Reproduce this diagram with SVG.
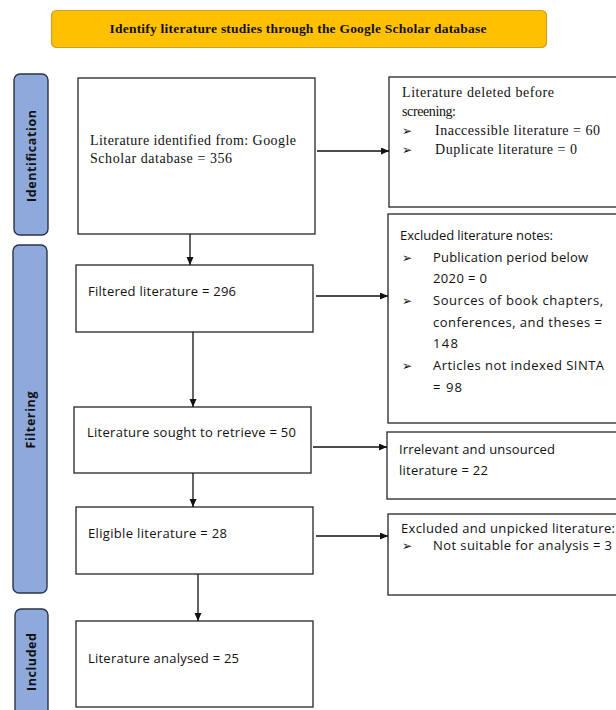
<svg xmlns="http://www.w3.org/2000/svg" width="616" height="710" viewBox="0 0 616 710">
<style>
.box{fill:#fff;stroke:#262626;stroke-width:1.3}
.side{fill:#8EA9DB;stroke:#2B3446;stroke-width:1.4}
.serif{font-family:"Liberation Serif","DejaVu Serif",serif;font-size:14px;fill:#111}
.sans{font-family:"Open Sans","Noto Sans","DejaVu Sans",sans-serif;font-size:13px;fill:#111}
.blt{font-family:"DejaVu Sans",sans-serif;font-size:12px;fill:#111}
.lab{font-family:"Open Sans","Noto Sans","DejaVu Sans",sans-serif;font-size:12.5px;font-weight:bold;fill:#111}
.con{stroke:#111;stroke-width:1.3;fill:none}
</style>
<defs>
<marker id="ah" markerUnits="userSpaceOnUse" markerWidth="9" markerHeight="8" refX="8" refY="3.5" orient="auto">
<path d="M0,0 L8,3.5 L0,7 z" fill="#111"/>
</marker>
</defs>
<rect width="616" height="710" fill="#fff"/>

<g id="header">
<rect x="51.5" y="10.5" width="495" height="37" rx="5" fill="#FFC000" stroke="#C9A227" stroke-width="1.2"/>
<text x="298" y="33" text-anchor="middle" font-family="Liberation Serif, DejaVu Serif, serif" font-weight="bold" font-size="13.5px" fill="#111" textLength="377">Identify literature studies through the Google Scholar database</text>
</g>

<g id="side-identification">
<rect class="side" x="14" y="74" width="34" height="161" rx="6"/>
<text class="lab" transform="translate(36,156) rotate(-90)" text-anchor="middle" textLength="92">Identification</text>
</g>
<g id="side-filtering">
<rect class="side" x="13" y="245" width="34" height="348" rx="6"/>
<text class="lab" transform="translate(35,420) rotate(-90)" text-anchor="middle" textLength="57">Filtering</text>
</g>
<g id="side-included">
<rect class="side" x="15" y="609" width="33" height="120" rx="6"/>
<text class="lab" transform="translate(36,662) rotate(-90)" text-anchor="middle" textLength="58">Included</text>
</g>

<g id="identified">
<rect class="box" x="78" y="78" width="237" height="156"/>
<text class="serif" x="90" y="145" textLength="206">Literature identified from: Google</text>
<text class="serif" x="90" y="163" textLength="142">Scholar database = 356</text>
</g>

<g id="deleted">
<rect class="box" x="389" y="77" width="240" height="130"/>
<text class="serif" x="402" y="97" textLength="152">Literature deleted before</text>
<text class="serif" x="402" y="116" textLength="54">screening:</text>
<text class="blt" x="402" y="135">➢</text>
<text class="serif" x="435" y="135" textLength="165">Inaccessible literature = 60</text>
<text class="blt" x="402" y="154">➢</text>
<text class="serif" x="435" y="154" textLength="142">Duplicate literature = 0</text>
</g>

<g id="filtered">
<rect class="box" x="76" y="265" width="237" height="67"/>
<text class="sans" x="88" y="296" textLength="148">Filtered literature = 296</text>
</g>

<g id="excluded-notes">
<rect class="box" x="388" y="214" width="240" height="209"/>
<text class="sans" x="400" y="240" textLength="153">Excluded literature notes:</text>
<text class="blt" x="402" y="262">➢</text>
<text class="sans" x="433" y="262" textLength="155">Publication period below</text>
<text class="sans" x="433" y="283" textLength="54">2020 = 0</text>
<text class="blt" x="402" y="305">➢</text>
<text class="sans" x="433" y="305" textLength="170">Sources of book chapters,</text>
<text class="sans" x="433" y="327" textLength="169">conferences, and theses =</text>
<text class="sans" x="433" y="348" textLength="25">148</text>
<text class="blt" x="402" y="370">➢</text>
<text class="sans" x="433" y="370" textLength="171">Articles not indexed SINTA</text>
<text class="sans" x="433" y="392" textLength="29">= 98</text>
</g>

<g id="sought">
<rect class="box" x="74" y="407" width="237" height="66"/>
<text class="sans" x="87" y="437" textLength="209">Literature sought to retrieve = 50</text>
</g>

<g id="irrelevant">
<rect class="box" x="387" y="432" width="240" height="67"/>
<text class="sans" x="399" y="454" textLength="156">Irrelevant and unsourced</text>
<text class="sans" x="399" y="475" textLength="89">literature = 22</text>
</g>

<g id="eligible">
<rect class="box" x="76" y="507" width="237" height="67"/>
<text class="sans" x="88" y="538" textLength="139">Eligible literature = 28</text>
</g>

<g id="unpicked">
<rect class="box" x="388" y="514" width="240" height="81"/>
<text class="sans" x="401" y="533" font-size="12.5px" textLength="214">Excluded and unpicked literature:</text>
<text class="blt" x="402" y="550">➢</text>
<text class="sans" x="433" y="550" font-size="12.5px" textLength="179">Not suitable for analysis = 3</text>
</g>

<g id="analysed">
<rect class="box" x="76" y="621" width="237" height="86"/>
<text class="sans" x="88" y="663" textLength="151">Literature analysed = 25</text>
</g>

<g id="connectors">
<line class="con" x1="190" y1="234" x2="190" y2="265" marker-end="url(#ah)"/>
<line class="con" x1="193" y1="332" x2="193" y2="407" marker-end="url(#ah)"/>
<line class="con" x1="193" y1="473" x2="193" y2="507" marker-end="url(#ah)"/>
<line class="con" x1="198" y1="574" x2="198" y2="621" marker-end="url(#ah)"/>
<line class="con" x1="317" y1="151" x2="389" y2="151" marker-end="url(#ah)"/>
<line class="con" x1="316" y1="296" x2="388" y2="296" marker-end="url(#ah)"/>
<line class="con" x1="313" y1="447" x2="387" y2="447" marker-end="url(#ah)"/>
<line class="con" x1="316" y1="536" x2="388" y2="536" marker-end="url(#ah)"/>
</g>
</svg>
